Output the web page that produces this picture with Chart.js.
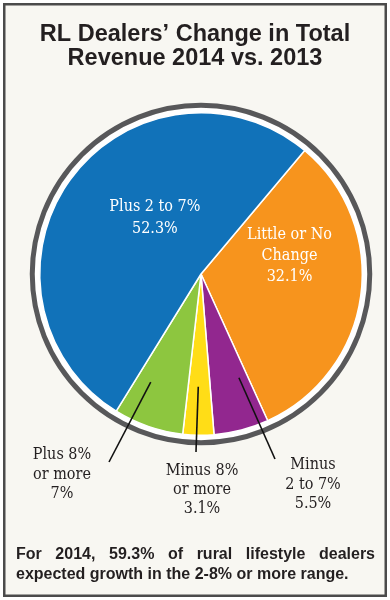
<!DOCTYPE html>
<html>
<head>
<meta charset="utf-8">
<script src="https://cdn.jsdelivr.net/npm/chart.js@4.4.1/dist/chart.umd.min.js"></script>
<style>
  html, body { margin: 0; padding: 0; background: #fff; }
</style>
</head>
<body>
<canvas id="myChart" width="390" height="600"></canvas>
<script>
"use strict";

// data, clockwise from the orange slice
const categories = [['Little or No', 'Change'], ['Minus', '2 to 7%'], ['Minus 8%', 'or more'], ['Plus 8%', 'or more'], ['Plus 2 to 7%']];
const shares = [32.1, 5.5, 3.1, 7, 52.3];
const sliceColors = ['#f7941d', '#92278f', '#ffdd17', '#8dc63f', '#1172b9'];
const titleLines = ['RL Dealers’ Change in Total', 'Revenue 2014 vs. 2013'];
const footLines = ['For 2014, 59.3% of rural lifestyle dealers', 'expected growth in the 2-8% or more range.'];

const labelFont = '16px "DejaVu Serif Condensed", "DejaVu Serif", serif';
const sansFont = '"Liberation Sans", Arial, sans-serif';

// where each slice label goes: inside the slice, or outside with a leader line
const labelLayout = [
  { inside: true, frac: 0.334, r: 0.56, lh: 21 },
  { frac: 0.22, r: 0.685, end: [74, 185], text: [112, 191], lh: 19.5 },
  { frac: 0.54, r: 0.70, end: [-5, 178], text: [1, 197], lh: 19 },
  { frac: 0.73, r: 0.74, end: [-92, 188], text: [-139, 181], lh: 19.5 },
  { inside: true, frac: 0.578, r: 0.45, lh: 22 }
];

const framePlugin = {
  id: 'frame',
  beforeDraw(chart) {
    const ctx = chart.ctx;
    ctx.save();
    ctx.fillStyle = '#ffffff';
    ctx.fillRect(0, 0, chart.width, chart.height);
    ctx.fillStyle = '#f8f7f2';
    ctx.fillRect(3, 3, chart.width - 6, chart.height - 6);
    ctx.strokeStyle = '#4b4b4b';
    ctx.lineWidth = 2.5;
    ctx.strokeRect(4.25, 4.25, chart.width - 8.5, chart.height - 8.5);

    // title, centred on the page rather than on the pie
    ctx.font = 'bold 23.5px ' + sansFont;
    ctx.fillStyle = '#231f20';
    ctx.textAlign = 'center';
    ctx.textBaseline = 'alphabetic';
    titleLines.forEach((t, k) => ctx.fillText(t, 195, 41 + k * 24));
    ctx.restore();
  },
  beforeDatasetsDraw(chart) {
    const arc = chart.getDatasetMeta(0).data[0];
    if (!arc) return;
    const ctx = chart.ctx;
    const R = arc.outerRadius;
    ctx.save();
    ctx.beginPath();
    ctx.arc(arc.x, arc.y, R + 5, 0, Math.PI * 2);
    ctx.fillStyle = '#ffffff';
    ctx.fill();
    ctx.beginPath();
    ctx.arc(arc.x, arc.y, R + 7.5, 0, Math.PI * 2);
    ctx.strokeStyle = '#58585a';
    ctx.lineWidth = 5;
    ctx.stroke();
    ctx.restore();
  },
  afterDatasetsDraw(chart) {
    const ctx = chart.ctx;
    const arcs = chart.getDatasetMeta(0).data;
    ctx.save();
    ctx.font = labelFont;
    ctx.textAlign = 'center';
    ctx.textBaseline = 'middle';
    arcs.forEach((arc, i) => {
      const lay = labelLayout[i];
      const lines = categories[i].concat(shares[i] + '%');
      const a = arc.startAngle + lay.frac * (arc.endAngle - arc.startAngle);
      const px = arc.x + Math.cos(a) * lay.r * arc.outerRadius;
      const py = arc.y + Math.sin(a) * lay.r * arc.outerRadius;
      let tx, ty;
      if (lay.inside) {
        ctx.fillStyle = '#ffffff';
        tx = px;
        ty = py - (lines.length - 1) * lay.lh / 2;
      } else {
        ctx.strokeStyle = '#111111';
        ctx.lineWidth = 1.6;
        ctx.beginPath();
        ctx.moveTo(px, py);
        ctx.lineTo(arc.x + lay.end[0], arc.y + lay.end[1]);
        ctx.stroke();
        ctx.fillStyle = '#231f20';
        tx = arc.x + lay.text[0];
        ty = arc.y + lay.text[1];
      }
      lines.forEach((l, k) => ctx.fillText(l, tx, ty + k * lay.lh));
    });

    // footnote, first line justified
    ctx.font = 'bold 16px ' + sansFont;
    ctx.fillStyle = '#231f20';
    ctx.textAlign = 'left';
    ctx.textBaseline = 'alphabetic';
    const left = 16, right = 375;
    const words = footLines[0].split(' ');
    const used = words.reduce((s, w) => s + ctx.measureText(w).width, 0);
    const gap = (right - left - used) / (words.length - 1);
    let x = left;
    words.forEach(w => {
      ctx.fillText(w, x, 559);
      x += ctx.measureText(w).width + gap;
    });
    ctx.fillText(footLines[1], left, 578.5);
    ctx.restore();
  }
};

const ctx = document.getElementById('myChart').getContext('2d');
const myChart = new Chart(ctx, {
  type: 'pie',
  data: {
    labels: categories,
    datasets: [{
      data: shares,
      backgroundColor: sliceColors,
      borderColor: '#ffffff',
      borderWidth: 1.5,
      hoverOffset: 0
    }]
  },
  options: {
    responsive: false,
    animation: false,
    rotation: 40,
    layout: { padding: { left: 39, right: 27, top: 112, bottom: 164 } },
    plugins: {
      legend: { display: false },
      tooltip: { enabled: false },
      title: { display: false }
    }
  },
  plugins: [framePlugin]
});
</script>
</body>
</html>
